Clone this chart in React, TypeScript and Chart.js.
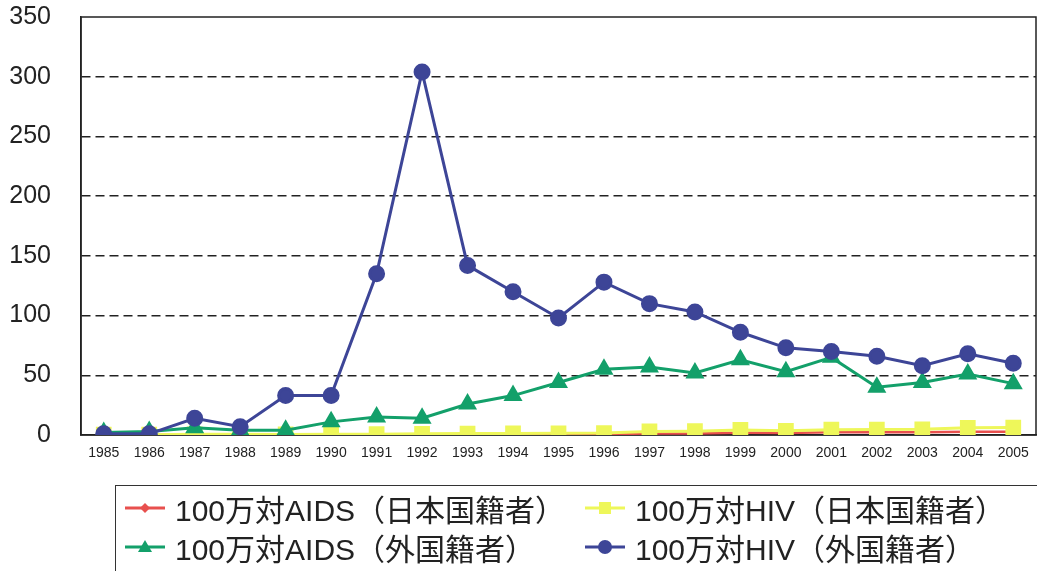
import React, { useEffect, useRef } from "react";
import { Chart, registerables } from "chart.js";
Chart.register(...registerables);

const years = ["1985","1986","1987","1988","1989","1990","1991","1992","1993","1994","1995","1996","1997","1998","1999","2000","2001","2002","2003","2004","2005"];
const aidsJapan = [0.1,0.1,0.2,0.2,0.2,0.3,0.3,0.5,0.5,0.6,0.7,0.8,1.2,1.3,1.8,1.6,2.2,2.3,2.4,2.7,2.8];
const hivJapan = [0.3,0.3,0.6,0.6,0.5,0.6,0.7,1.0,1.2,1.3,1.4,1.6,3.0,3.2,4.2,3.5,4.5,4.6,4.8,6.0,6.2];
const aidsForeign = [2,3,6,4,4,11,15,14,26,33,44,55,57,52,63,53,65,40,44,51,43];
const hivForeign = [1,1,14,7,33,33,135,304,142,120,98,128,110,103,86,73,70,66,58,68,60];
const yMin = 0;
const yMax = 350;
const yStep = 50;

const legendItems = [
  { label: "100万対AIDS（日本国籍者）", color: "#e8504e", shape: "diamond" },
  { label: "100万対HIV（日本国籍者）", color: "#eef75a", shape: "square" },
  { label: "100万対AIDS（外国籍者）", color: "#13a06a", shape: "triangle" },
  { label: "100万対HIV（外国籍者）", color: "#3d4597", shape: "circle" },
];

function Marker({ color, shape }: { color: string; shape: string }) {
  let m: any = null;
  if (shape === "diamond") m = <polygon points="20,5 25,10 20,15 15,10" fill={color} />;
  if (shape === "square") m = <rect x="14" y="4" width="12" height="12" fill={color} />;
  if (shape === "triangle") m = <polygon points="20,3 27,15 13,15" fill={color} />;
  if (shape === "circle") m = <circle cx="20" cy="10" r="7" fill={color} />;
  return (
    <svg width="40" height="20" style={{ display: "block" }}>
      <line x1="0" y1="10" x2="40" y2="10" stroke={color} strokeWidth="3" />
      {m}
    </svg>
  );
}

const framePlugin = {
  id: "frame",
  beforeDatasetsDraw(chart: any) {
    const { ctx, chartArea } = chart;
    ctx.save();
    ctx.strokeStyle = "#222";
    ctx.lineWidth = 1.5;
    ctx.strokeRect(chartArea.left, chartArea.top, chartArea.right - chartArea.left, chartArea.bottom - chartArea.top);
    ctx.restore();
  },
};

export default function App() {
  const ref = useRef<HTMLCanvasElement>(null);
  useEffect(() => {
    document.body.style.margin = "0";
    const chart = new Chart(ref.current!, {
      type: "line",
      data: {
        labels: years,
        datasets: [
          { label: legendItems[0].label, data: aidsJapan, borderColor: "#e8504e", backgroundColor: "#e8504e", borderWidth: 2.5, pointStyle: "rectRot", pointRadius: 5, order: 4 },
          { label: legendItems[1].label, data: hivJapan, borderColor: "#eef75a", backgroundColor: "#eef75a", borderWidth: 3, pointStyle: "rect", pointRadius: 9, order: 3 },
          { label: legendItems[2].label, data: aidsForeign, borderColor: "#13a06a", backgroundColor: "#13a06a", borderWidth: 3, pointStyle: "triangle", pointRadius: 8, order: 2 },
          { label: legendItems[3].label, data: hivForeign, borderColor: "#3d4597", backgroundColor: "#3d4597", borderWidth: 3, pointStyle: "circle", pointRadius: 7, order: 1 },
        ],
      },
      options: {
        animation: false,
        responsive: false,
        devicePixelRatio: 1,
        layout: { padding: { top: 17, right: 1, bottom: 106, left: 0 } },
        plugins: { legend: { display: false }, tooltip: { enabled: false } },
        elements: { line: { tension: 0 }, point: { borderWidth: 0 } },
        scales: {
          x: {
            type: "category",
            offset: true,
            grid: { display: false, drawTicks: false },
            border: { display: true, color: "#222", width: 1.5 },
            ticks: { font: { family: "'Liberation Sans', Arial", size: 14 }, color: "#222", padding: 10, maxRotation: 0, autoSkip: false },
            afterFit: (s: any) => { s.height = 30; s.paddingLeft = 0; s.paddingRight = 0; },
          },
          y: {
            min: yMin,
            max: yMax,
            grid: {
              drawTicks: false,
              lineWidth: 1.5,
              color: (c: any) => (c.tick && (c.tick.value === yMin || c.tick.value === yMax) ? "rgba(0,0,0,0)" : "#222"),
            },
            border: { display: true, color: "#222", width: 1.5, dash: [9, 5] },
            ticks: { stepSize: yStep, font: { family: "'Liberation Sans', Arial", size: 25 }, color: "#222", padding: 30 },
            afterFit: (s: any) => { s.width = 81; s.paddingTop = 0; s.paddingBottom = 0; },
          },
        },
      },
      plugins: [framePlugin],
    });
    return () => chart.destroy();
  }, []);

  const textStyle: React.CSSProperties = { fontFamily: "'Liberation Sans', 'Noto Sans CJK JP', sans-serif", fontSize: 30, color: "#222", whiteSpace: "nowrap", marginLeft: 10 };
  const item = (i: number, left: number, top: number) => (
    <div style={{ position: "absolute", left, top, display: "flex", alignItems: "center", height: 30 }}>
      <Marker color={legendItems[i].color} shape={legendItems[i].shape} />
      <span style={textStyle}>{legendItems[i].label}</span>
    </div>
  );

  return (
    <div style={{ position: "relative", width: 1037, height: 571, overflow: "hidden", background: "#fff" }}>
      <canvas ref={ref} width={1048} height={571} style={{ position: "absolute", left: 0, top: 0 }} />
      <div style={{ position: "absolute", left: 115, top: 485, width: 960, height: 120, border: "1.5px solid #333", boxSizing: "border-box" }} />
      {item(0, 125, 493)}
      {item(1, 585, 493)}
      {item(2, 125, 532)}
      {item(3, 585, 532)}
    </div>
  );
}
